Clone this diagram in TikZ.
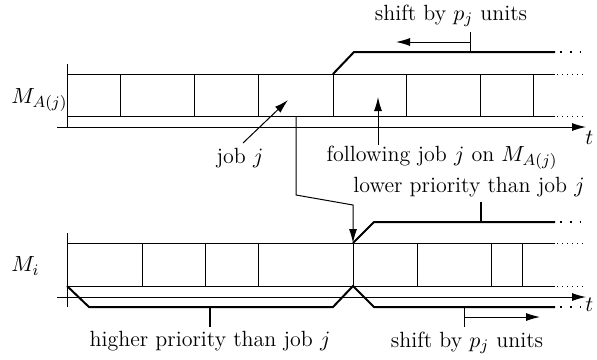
\documentclass[tikz,border=0pt]{standalone}
\usetikzlibrary{arrows.meta}
\begin{document}
\begin{tikzpicture}[x=0.5pt,y=-0.5pt,
  every node/.style={font=\fontsize{11}{13}\selectfont, inner sep=0pt},
  thin line/.style={line width=0.5pt},
  thick line/.style={line width=1pt},
  tip/.style={-{Latex[length=7pt,width=4pt]}},
  dotsthin/.style={line width=0.5pt, dotted},
  dotsthick/.style={line width=0.9pt, dash pattern=on 0.9pt off 4pt}]
\useasboundingbox (0,0) rectangle (597,359);

% ---------- top machine M_{A(j)} ----------
\node[anchor=west] (MA) at (11,100) {$M_{A(j)}$};
\coordinate (TV0) at (67,64); \coordinate (TV1) at (67,127);
\draw[thin line] (TV0) -- (TV1);
\coordinate (TA0) at (57,127); \coordinate (TA1) at (586,127);
\draw[thin line, tip] (TA0) -- (TA1);
\node[anchor=north west] (t1) at (585,131) {$t$};
% box
\draw[thin line] (67,74) -- (555,74) (67,116) -- (555,116);
\draw[dotsthin] (557,74) -- (586,74) (557,116) -- (586,116);
\foreach \x in {120,194,258,333,406,480,533} \draw[thin line] (\x,74) -- (\x,116);
% thick shifted line
\draw[thick line] (333,74) -- (354,52) -- (555,52);
\draw[dotsthick] (560,52) -- (586,52);
% shift arrow top
\coordinate (TS0) at (470,32); \coordinate (TS1) at (470,52);
\draw[thin line] (TS0) -- (TS1);
\coordinate (TS2) at (470,42); \coordinate (TS3) at (396,42);
\draw[thin line, tip] (TS2) -- (TS3);
\node (shift1) at (451,16) {shift by $p_j$ units};
% labels
\node (jobj) at (240,158) {job $j$};
\coordinate (J1) at (288,100);
\draw[thin line, tip] (243,143) -- (J1);
\node (foll) at (442,158) {following job $j$ on $M_{A(j)}$};
\coordinate (F1) at (378,97);
\draw[thin line, tip] (378,145) -- (F1);

% ---------- bottom machine M_i ----------
\node[anchor=west] (Mi) at (11,266) {$M_i$};
\draw[thin line] (67,233) -- (67,307);
\draw[thin line, tip] (57,297) -- (586,297);
\node[anchor=north west] (t2) at (585,298) {$t$};
\draw[thin line] (67,243) -- (555,243) (67,286) -- (555,286);
\draw[dotsthin] (557,243) -- (586,243) (557,286) -- (586,286);
\foreach \x in {142,205,258,353,417,491,522} \draw[thin line] (\x,243) -- (\x,286);
% thick upper line
\draw[thick line] (353,243) -- (374,222) -- (555,222);
\draw[dotsthick] (560,222) -- (586,222);
\draw[thick line] (481,222) -- (481,202);
\node (lower) at (469,187) {lower priority than job $j$};
% thick lower line
\draw[thick line] (67,286) -- (89,307) -- (333,307) -- (353,286) -- (374,307) -- (555,307);
\draw[dotsthick] (560,307) -- (586,307);
\draw[thick line] (210,307) -- (210,327);
\node (higher) at (210,341) {higher priority than job $j$};
% bottom shift arrow
\draw[thin line] (464,308) -- (464,327);
\draw[thin line, tip] (464,317) -- (540,317);
\node (shift2) at (467,343) {shift by $p_j$ units};

% connector from job j to M_i
\coordinate (C0) at (296,116);
\coordinate (C3) at (353,243);
\draw[thin line, tip] (C0) -- (296,195) -- (353,205) -- (C3);
\end{tikzpicture}
\end{document}
